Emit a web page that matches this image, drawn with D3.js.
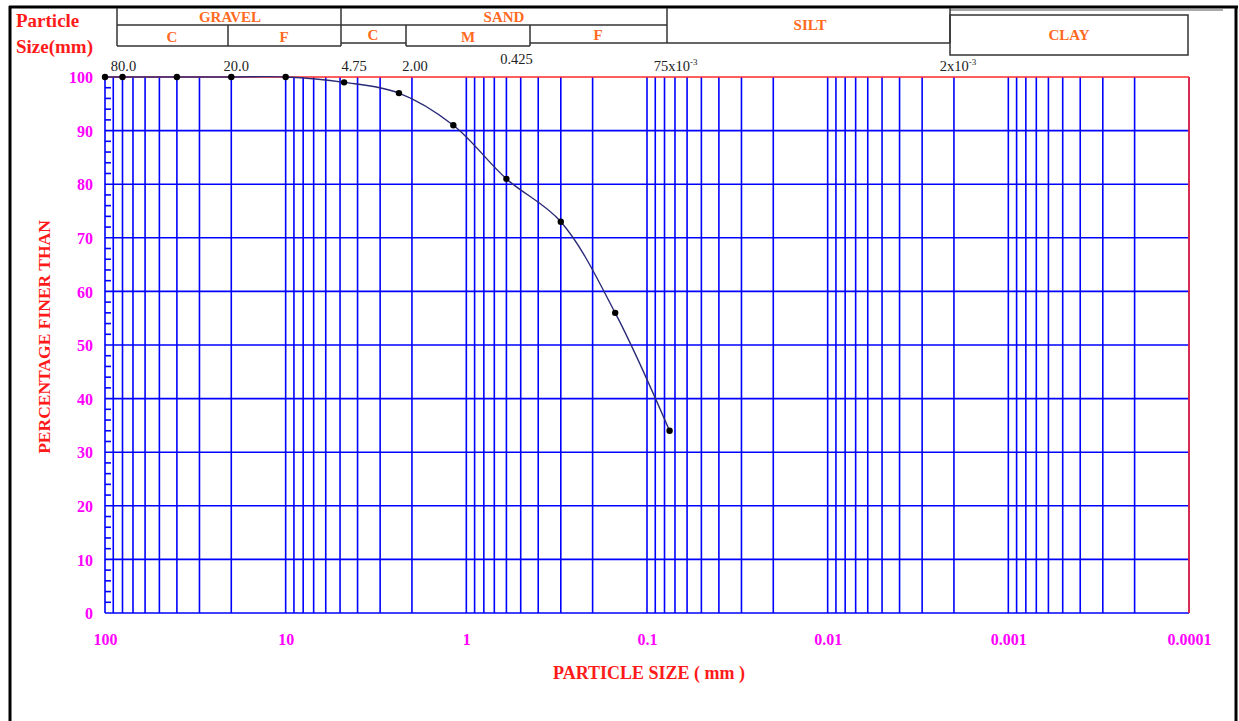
<!DOCTYPE html>
<html>
<head>
<meta charset="utf-8">
<script src="https://cdn.jsdelivr.net/npm/d3@7"></script>
<style>
  html, body { margin: 0; padding: 0; background: #fff; }
  svg { display: block; }
  text { font-family: "Liberation Serif", "Times New Roman", serif; }
</style>
</head>
<body>
<svg id="chart" width="1239" height="721"></svg>
<script>
// ---------------- DATA ----------------
const sieveSizes = [100, 80, 40, 20, 10, 4.75, 2.36, 1.18, 0.6, 0.3, 0.15, 0.075];
const percentFiner = [100, 100, 100, 100, 100, 99, 97, 91, 81, 73, 56, 34];

const xTickValues = [100, 10, 1, 0.1, 0.01, 0.001, 0.0001];
const xTickLabels = ["100", "10", "1", "0.1", "0.01", "0.001", "0.0001"];
const yTickValues = [0, 10, 20, 30, 40, 50, 60, 70, 80, 90, 100];
const yMinorTickValues = d3.range(0, 101, 2).filter(v => v % 10 !== 0);

const markerSizes = [80, 20, 4.75, 2, 0.425, 0.075, 0.002];
const markerLabels = ["80.0", "20.0", "4.75", "2.00", "0.425", "75x10", "2x10"];
const markerSup = ["", "", "", "", "", "-3", "-3"];

const mainBands = ["GRAVEL", "SAND", "SILT", "CLAY"];
const subBands = ["C", "F", "C", "M", "F"];

// ---------------- SETUP ----------------
const svg = d3.select("#chart");
const W = 1239, H = 721;
const pLeft = 105, pRight = 1189, pTop = 77, pBottom = 613;

const x = d3.scaleLog().domain([100, 0.0001]).range([pLeft, pRight]);
const y = d3.scaleLinear().domain([0, 100]).range([pBottom, pTop]);

const BLUE = "#0000ff", RED = "#ff2a2a", MAG = "#ff00ff", ORANGE = "#ff6a1f";

// Outer frame
svg.append("line").attr("x1", 9).attr("x2", 1238).attr("y1", 7).attr("y2", 7)
  .attr("stroke", "#000").attr("stroke-width", 3);
svg.append("line").attr("x1", 950).attr("x2", 1223).attr("y1", 10).attr("y2", 10)
  .attr("stroke", "#555").attr("stroke-width", 1);
svg.append("line").attr("x1", 10).attr("x2", 10).attr("y1", 6).attr("y2", H)
  .attr("stroke", "#000").attr("stroke-width", 3);
svg.append("line").attr("x1", 1236).attr("x2", 1236).attr("y1", 6).attr("y2", H)
  .attr("stroke", "#000").attr("stroke-width", 3);

// ---------------- HEADER TABLE ----------------
const hdr = svg.append("g").attr("stroke", "#333").attr("stroke-width", 1.5).attr("fill", "none");
function hl(x1, x2, yy) { hdr.append("line").attr("x1", x1).attr("x2", x2).attr("y1", yy).attr("y2", yy); }
function vl(xx, y1, y2) { hdr.append("line").attr("x1", xx).attr("x2", xx).attr("y1", y1).attr("y2", y2); }
vl(117, 8, 46); hl(117, 667, 25); hl(117, 341, 46); vl(228, 25, 46); vl(341, 8, 46);
hl(341, 406, 43); vl(406, 25, 46); hl(406, 530, 46); vl(530, 25, 46); hl(530, 667, 43); vl(667, 8, 43);
hl(667, 950, 43); vl(950, 8, 43);
hdr.append("rect").attr("x", 950).attr("y", 15).attr("width", 238).attr("height", 40);

const hdrText = svg.append("g").attr("fill", ORANGE).attr("font-weight", "bold")
  .attr("font-size", 15).attr("text-anchor", "middle");
const mainPos = [[230, 22], [504, 22], [810, 30], [1069, 40]];
mainBands.forEach((t, i) => hdrText.append("text").attr("x", mainPos[i][0]).attr("y", mainPos[i][1]).text(t));
const subPos = [[172, 42], [284, 42], [373, 40], [468, 42], [598, 40]];
subBands.forEach((t, i) => hdrText.append("text").attr("x", subPos[i][0]).attr("y", subPos[i][1]).text(t));

svg.append("text").attr("x", 16).attr("y", 27).attr("fill", "#ff1a1a").attr("font-weight", "bold")
  .attr("font-size", 19).text("Particle");
svg.append("text").attr("x", 16).attr("y", 53).attr("fill", "#ff1a1a").attr("font-weight", "bold")
  .attr("font-size", 19).text("Size(mm)");

// ---------------- GRID ----------------
const grid = svg.append("g");
const vGridVals = [];
for (let k = -4; k <= 1; k++) {
  for (let m = 1; m <= 9; m++) {
    const v = m * Math.pow(10, k);
    if (v >= 0.0001 && v <= 100) vGridVals.push(v);
  }
}
vGridVals.push(100);
grid.selectAll("line.v").data(vGridVals).join("line").attr("class", "v")
  .attr("x1", d => x(d)).attr("x2", d => x(d)).attr("y1", y(0)).attr("y2", y(100))
  .attr("stroke", BLUE).attr("stroke-width", 1.6);
grid.selectAll("line.h").data(yTickValues.filter(v => v < 100)).join("line").attr("class", "h")
  .attr("x1", x(100)).attr("x2", x(0.0001)).attr("y1", d => y(d)).attr("y2", d => y(d))
  .attr("stroke", BLUE).attr("stroke-width", 1.6);
grid.selectAll("line.m").data(yMinorTickValues).join("line").attr("class", "m")
  .attr("x1", x(100)).attr("x2", x(100) + 6).attr("y1", d => y(d)).attr("y2", d => y(d))
  .attr("stroke", BLUE).attr("stroke-width", 1.6);
grid.append("line").attr("x1", x(100)).attr("x2", x(0.0001)).attr("y1", y(100)).attr("y2", y(100))
  .attr("stroke", RED).attr("stroke-width", 1.6);
grid.append("line").attr("x1", x(0.0001)).attr("x2", x(0.0001)).attr("y1", y(100)).attr("y2", y(0))
  .attr("stroke", RED).attr("stroke-width", 1.6);

// ---------------- AXES ----------------
const xAxis = d3.axisBottom(x).tickValues(xTickValues).tickFormat((d, i) => xTickLabels[i]).tickSize(0).tickPadding(0);
const gx = svg.append("g").attr("transform", `translate(0, 645)`).call(xAxis);
gx.select(".domain").remove();
gx.selectAll("text").attr("dy", 0).attr("fill", MAG).attr("font-size", 16).attr("font-weight", "bold")
  .attr("font-family", "Liberation Serif, serif");

const yAxis = d3.axisLeft(y).tickValues(yTickValues).tickSize(0).tickPadding(0);
const gy = svg.append("g").attr("transform", `translate(93, 0)`).call(yAxis);
gy.select(".domain").remove();
gy.selectAll("text").attr("dy", "0.35em").attr("fill", MAG).attr("font-size", 16).attr("font-weight", "bold")
  .attr("font-family", "Liberation Serif, serif");

// size-limit labels above the plot (label nudges are layout only)
const markerLabelDx = [1, 5, 10, 3, -17, 2, 0];
const mk = svg.append("g").attr("fill", "#222").attr("font-size", 14.5).attr("text-anchor", "middle");
markerSizes.forEach((v, i) => {
  const t = mk.append("text").attr("x", x(v) + markerLabelDx[i] + (markerSup[i] ? 4 : 0))
    .attr("y", v === 0.425 ? 64 : 71);
  t.append("tspan").text(markerLabels[i]);
  if (markerSup[i]) t.append("tspan").attr("font-size", 9).attr("dy", -6).text(markerSup[i]);
});

svg.append("text").attr("x", 649).attr("y", 679).attr("text-anchor", "middle")
  .attr("fill", "#ff1a1a").attr("font-weight", "bold").attr("font-size", 18)
  .text("PARTICLE SIZE ( mm )");
svg.append("text").attr("transform", "translate(50, 337) rotate(-90)").attr("text-anchor", "middle")
  .attr("fill", "#ff1a1a").attr("font-weight", "bold").attr("font-size", 17.5)
  .text("PERCENTAGE FINER THAN");

// ---------------- CURVE ----------------
const pts = sieveSizes.map((s, i) => [x(s), y(percentFiner[i])]);
svg.append("path").attr("d", d3.line().curve(d3.curveCatmullRom.alpha(0.5))(pts))
  .attr("fill", "none").attr("stroke", "#2a2a78").attr("stroke-width", 1.4);
svg.selectAll("circle.pt").data(pts).join("circle").attr("class", "pt")
  .attr("cx", d => d[0]).attr("cy", d => d[1]).attr("r", 3.2).attr("fill", "#000");
</script>
</body>
</html>
